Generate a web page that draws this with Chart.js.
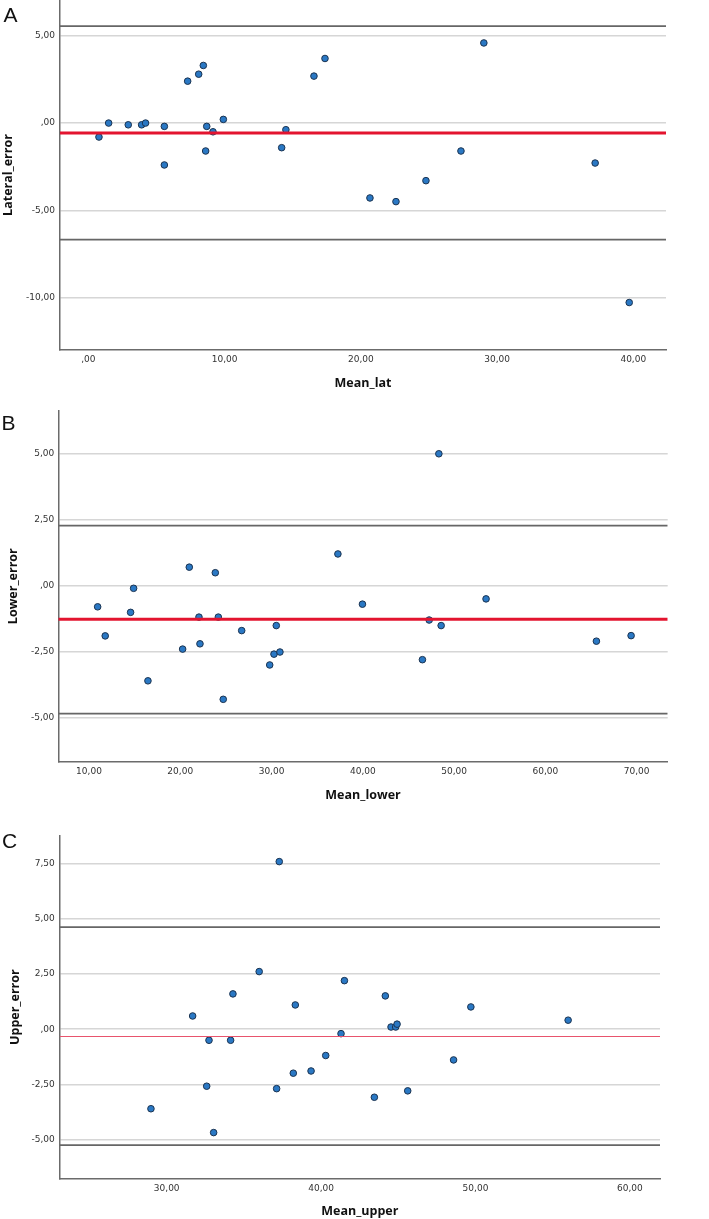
<!DOCTYPE html>
<html><head><meta charset="utf-8">
<script src="https://cdn.jsdelivr.net/npm/chart.js@4"></script>
<style>
html,body{margin:0;padding:0;background:#fff;width:709px;height:1219px;overflow:hidden;position:relative}
canvas{position:absolute;left:0}
.lbl{position:absolute;font-family:"Liberation Sans",Arial,sans-serif;font-size:21px;line-height:21px;color:#111;z-index:2}
</style></head><body>
<canvas id="cA" width="709" height="420" style="top:-25px"></canvas>
<canvas id="cB" width="709" height="410" style="top:395px"></canvas>
<canvas id="cC" width="709" height="414" style="top:805px"></canvas>
<div class="lbl" style="left:3.5px;top:4px">A</div>
<div class="lbl" style="left:1.5px;top:412px">B</div>
<div class="lbl" style="left:2px;top:830px">C</div>
<script>
// ---- Panel A data ----
const meanLat = [0.78,1.49,2.93,3.91,4.20,5.58,5.58,7.29,8.10,8.44,8.69,8.61,9.15,9.91,14.19,14.50,16.56,17.37,20.67,22.58,24.78,27.35,29.03,37.20,39.70];
const lateralError = [-0.80,0.00,-0.10,-0.10,0.00,-0.19,-2.40,2.40,2.80,3.30,-0.19,-1.60,-0.50,0.21,-1.41,-0.38,2.69,3.70,-4.29,-4.50,-3.30,-1.60,4.59,-2.29,-10.28];
const refA = {mean: -0.57, upper: 5.55, lower: -6.68};
const xTicksA = [0,10,20,30,40];
const xLabelsA = [',00','10,00','20,00','30,00','40,00'];
const yTicksA = [-10,-5,0,5];
const yLabelsA = ['-10,00','-5,00',',00','5,00'];

// ---- Panel B data ----
const meanLower = [10.95,11.78,14.56,14.89,16.46,20.26,20.99,22.05,22.16,23.84,24.17,24.71,26.73,29.80,30.27,30.52,30.92,37.27,39.96,48.33,47.27,48.58,46.53,53.50,65.59,69.39];
const lowerError = [-0.79,-1.89,-1.00,-0.09,-3.59,-2.39,0.71,-1.18,-2.19,0.50,-1.18,-4.29,-1.69,-2.99,-2.58,-1.50,-2.50,1.21,-0.69,5.00,-1.29,-1.50,-2.79,-0.49,-2.09,-1.88];
const refB = {mean: -1.26, upper: 2.28, lower: -4.83};
const xTicksB = [10,20,30,40,50,60,70];
const xLabelsB = ['10,00','20,00','30,00','40,00','50,00','60,00','70,00'];
const yTicksB = [-5,-2.5,0,2.5,5];
const yLabelsB = ['-5,00','-2,50',',00','2,50','5,00'];

// ---- Panel C data ----
const meanUpper = [28.98,31.68,32.59,32.74,33.04,34.14,34.29,35.99,37.29,37.12,38.20,38.33,39.35,40.30,41.29,41.51,44.16,43.45,44.53,44.83,44.92,45.61,48.58,49.70,56.00];
const upperError = [-3.60,0.60,-2.58,-0.50,-4.68,-0.50,1.60,2.61,7.59,-2.69,-1.99,1.10,-1.89,-1.19,-0.20,2.20,1.51,-3.08,0.10,0.10,0.23,-2.79,-1.39,1.01,0.41];
const refC = {mean: -0.33, upper: 4.62, lower: -5.25};
const xTicksC = [30,40,50,60];
const xLabelsC = ['30,00','40,00','50,00','60,00'];
const yTicksC = [-5,-2.5,0,2.5,5,7.5];
const yLabelsC = ['-5,00','-2,50',',00','2,50','5,00','7,50'];

const TICK_FONT = {family:'"DejaVu Sans", Verdana, sans-serif', size:9};
const TITLE_FONT = {family:'"Open Sans", sans-serif', size:12.5, weight:'bold'};

function makePanel(id, p) {
  const hline = (y, color, width) => ({
    type:'scatter', showLine:true, pointRadius:0, borderColor:color, borderWidth:width,
    data:[{x:p.xMin, y:y},{x:p.xMax, y:y}]
  });
  const pts = p.xs.map((x,i)=>({x:x, y:p.ys[i]}));
  new Chart(document.getElementById(id), {
    type:'scatter',
    data:{datasets:[
      hline(p.ref.mean, p.meanColor, p.meanWidth),
      hline(p.ref.upper, '#666666', 1.8),
      hline(p.ref.lower, '#666666', 1.8),
      {data:pts, pointRadius:3.3, pointHoverRadius:3.3, backgroundColor:'#2a78c4', borderColor:'#1b3350', borderWidth:1}
    ]},
    options:{
      responsive:false, animation:false, devicePixelRatio:1,
      layout:{padding:{top:p.padTop, right:p.padRight, left:0, bottom:0}},
      plugins:{legend:{display:false}, tooltip:{enabled:false}},
      scales:{
        x:{type:'linear', position:'bottom', min:p.xMin, max:p.xMax,
          afterBuildTicks:(s)=>{ s.ticks = p.xTicks.map(v=>({value:v})); },
          afterFit:(s)=>{ s.height = p.xAxisH; },
          grid:{display:false, drawTicks:false},
          border:{display:true, color:'#6b6b6b', width:1.5},
          ticks:{autoSkip:false, maxRotation:0, padding:4.5, color:'#333', font:TICK_FONT,
            callback:(v,i)=>p.xLabels[i]},
          title:{display:true, text:p.xTitle, color:'#111', font:TITLE_FONT, padding:{top:0,bottom:p.xTitlePad}}
        },
        y:{type:'linear', position:'left', min:p.yMin, max:p.yMax,
          afterBuildTicks:(s)=>{ s.ticks = p.yTicks.map(v=>({value:v})); },
          afterFit:(s)=>{ s.width = p.left; },
          grid:{display:true, drawTicks:false, color:'#d6d6d6', lineWidth:1.5},
          border:{display:true, color:'#6b6b6b', width:1.5},
          ticks:{autoSkip:false, padding:p.yTickPad, color:'#333', font:TICK_FONT,
            callback:(v,i)=>p.yLabels[i]},
          title:{display:true, text:p.yTitle, color:'#111', font:TITLE_FONT, padding:{top:p.yTitlePad,bottom:0}}
        }
      }
    }
  });
}

makePanel('cA', {xs:meanLat, ys:lateralError, ref:refA, xMin:-2.08, xMax:42.4, yMin:-13, yMax:7.05,
  xTicks:xTicksA, xLabels:xLabelsA, yTicks:yTicksA, yLabels:yLabelsA,
  xTitle:'Mean_lat', yTitle:'Lateral_error', meanColor:'#e3142f', meanWidth:3,
  padTop:25, padRight:43, left:60, xAxisH:45, xTitlePad:4.5, yTitlePad:1, yTickPad:5});

makePanel('cB', {xs:meanLower, ys:lowerError, ref:refB, xMin:6.64, xMax:73.4, yMin:-6.65, yMax:6.63,
  xTicks:xTicksB, xLabels:xLabelsB, yTicks:yTicksB, yLabels:yLabelsB,
  xTitle:'Mean_lower', yTitle:'Lower_error', meanColor:'#e3142f', meanWidth:3,
  padTop:15.7, padRight:41.3, left:58.3, xAxisH:43.3, xTitlePad:2.5, yTitlePad:5.5, yTickPad:4});

makePanel('cC', {xs:meanUpper, ys:upperError, ref:refC, xMin:23.07, xMax:61.95, yMin:-6.75, yMax:8.75,
  xTicks:xTicksC, xLabels:xLabelsC, yTicks:yTicksC, yLabels:yLabelsC,
  xTitle:'Mean_upper', yTitle:'Upper_error', meanColor:'#e8546d', meanWidth:1.2,
  padTop:31, padRight:49, left:59.7, xAxisH:40.7, xTitlePad:0, yTitlePad:7.5, yTickPad:5});
</script>
</body></html>
